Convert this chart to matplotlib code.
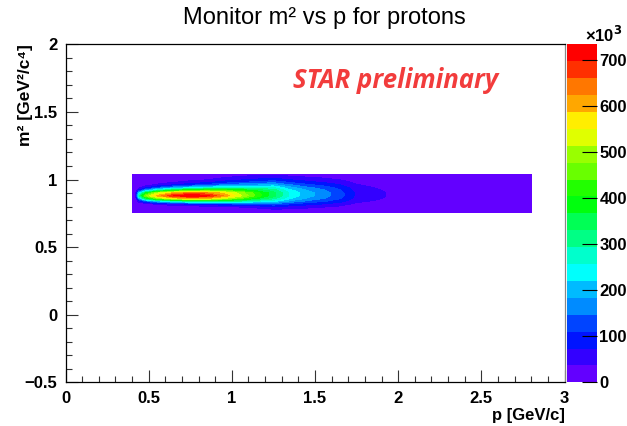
import colorsys
import numpy as np
import matplotlib
matplotlib.use("Agg")
import matplotlib.pyplot as plt

plt.rcParams['font.family'] = ['Liberation Sans', 'DejaVu Sans']

# histogram nodes (p in GeV/c, m2 in GeV^2/c^4), counts in units of 10^3
p_nodes = [0.40, 0.42, 0.44, 0.48, 0.55, 0.65, 0.75, 0.85, 0.95, 1.05, 1.15,
           1.25, 1.35, 1.45, 1.55, 1.65, 1.75, 1.85, 1.95, 2.05, 2.80]
m2_nodes = [0.756, 0.78, 0.80, 0.82, 0.84, 0.86, 0.88, 0.90, 0.92, 0.94, 0.96,
            0.98, 1.00, 1.02, 1.036]

# one row per p node, values along m2 nodes
counts = [
    [3, 3, 3, 3, 3, 3, 3, 3, 3, 3, 3, 3, 3, 3, 3],
    [3, 3, 3, 3, 3, 3, 3, 3, 3, 3, 3, 3, 3, 3, 3],
    [3, 3, 4, 10, 50, 170, 280, 200, 80, 25, 8, 4, 3, 3, 3],
    [3, 3, 6, 25, 125, 340, 470, 370, 170, 60, 20, 7, 4, 3, 3],
    [3, 4, 10, 45, 195, 465, 600, 510, 275, 115, 45, 18, 8, 4, 3],
    [3, 5, 15, 65, 260, 555, 700, 605, 365, 170, 75, 34, 15, 7, 4],
    [3, 6, 20, 85, 300, 600, 733, 645, 415, 210, 100, 50, 25, 12, 6],
    [4, 8, 26, 98, 315, 590, 712, 630, 430, 235, 122, 64, 33, 17, 9],
    [4, 10, 33, 110, 305, 520, 625, 580, 430, 265, 150, 88, 52, 30, 17],
    [5, 14, 42, 120, 290, 450, 525, 500, 400, 275, 170, 105, 65, 40, 24],
    [6, 20, 55, 125, 260, 370, 430, 420, 355, 265, 180, 120, 78, 48, 30],
    [8, 35, 75, 140, 235, 305, 345, 345, 315, 260, 195, 135, 90, 55, 33],
    [8, 33, 62, 112, 175, 225, 250, 250, 230, 195, 150, 105, 70, 42, 25],
    [7, 27, 50, 90, 140, 180, 200, 200, 185, 156, 120, 84, 56, 34, 20],
    [6, 22, 41, 74, 116, 149, 165, 165, 152, 129, 99, 69, 46, 28, 17],
    [5, 16, 31, 56, 88, 113, 125, 125, 115, 98, 75, 53, 35, 21, 13],
    [4, 9, 16, 29, 46, 59, 65, 65, 60, 51, 39, 27, 18, 11, 7],
    [4, 7, 12, 22, 34, 45, 48, 48, 44, 37, 29, 20, 13, 8, 5],
    [3, 5, 8, 15, 23, 30, 33, 33, 30, 26, 20, 14, 9, 6, 4],
    [3, 4, 6, 9, 13, 17, 19, 19, 17, 15, 12, 9, 6, 4, 3],
    [3, 3, 3, 3, 3, 3, 3, 3, 3, 3, 3, 3, 3, 3, 3],
]
z_max = 735
cbar_ticks = [0, 100, 200, 300, 400, 500, 600, 700]

# ROOT "pretty" palette, 20 contours
n_cont = 20
colors = []
for k in range(n_cont):
    idx = int((k + 0.99) * 50 / n_cont)
    hue = 280 - (idx + 1) * 5.6
    colors.append(colorsys.hsv_to_rgb(hue / 360.0, 1, 1))
levels = np.linspace(0, z_max, n_cont + 1)

fig = plt.figure(figsize=(6.27, 4.26), dpi=100)
W, H = 627, 426
ax = fig.add_axes([65.5 / W, 1 - 382.3 / H, (564.5 - 65.5) / W, (382.3 - 44.3) / H])
cax = fig.add_axes([566.7 / W, 1 - 382.3 / H, 30 / W, (382.3 - 44.3) / H])

Z = np.array(counts).T
cs = ax.contourf(p_nodes, m2_nodes, Z, levels=levels, colors=colors)

ax.set_xlim(0, 3)
ax.set_ylim(-0.5, 2)
ax.set_xticks(np.arange(0, 3.01, 0.5))
ax.set_xticks(np.arange(0, 3.01, 0.1), minor=True)
ax.set_yticks(np.arange(-0.5, 2.01, 0.5))
ax.set_yticks(np.arange(-0.5, 2.01, 0.1), minor=True)
ax.set_xticklabels(['0', '0.5', '1', '1.5', '2', '2.5', '3'])
ax.set_yticklabels(['\u22120.5', '0', '0.5', '1', '1.5', '2'])
ax.tick_params(which='both', direction='in', top=False, right=False,
               labelsize=12, width=0.8, color='#333333')
ax.tick_params(which='major', length=8.5, pad=6)
ax.tick_params(which='minor', length=4.3)
for lab in ax.get_xticklabels() + ax.get_yticklabels():
    lab.set_fontweight('bold')
for s in ax.spines.values():
    s.set_linewidth(0.9)
ax.spines['right'].set_color('#888888')

ax.set_xlabel('p [GeV/c]', fontsize=12, fontweight='bold', loc='right', labelpad=2)
ax.set_ylabel('m\u00b2 [GeV\u00b2/c\u2074]', fontsize=12.5, fontweight='bold', loc='top')
ax.yaxis.set_label_coords(-0.066, 1.0)

fig.text(324 / W, 1 - 18 / H, 'Monitor m\u00b2 vs p for protons', fontsize=17,
         ha='center', va='center')
ax.text(1.37, 1.73, 'STAR preliminary', color='#f23c3c', fontsize=18.5,
        fontweight='bold', style='italic', family='Open Sans', ha='left', va='center')

cb = fig.colorbar(cs, cax=cax, ticks=cbar_ticks)
cb.outline.set_visible(False)
cax.set_ylim(0, z_max)
cax.tick_params(direction='in', length=11, width=0.8, labelsize=12, pad=2)
cax.set_yticklabels([str(t) for t in cbar_ticks], fontweight='bold')
fig.text(623 / W, 1 - 42 / H, '\u00d710$^{\\mathbf{3}}$', fontsize=12, fontweight='bold',
         ha='right', va='baseline')

fig.savefig('out.png', dpi=100)
